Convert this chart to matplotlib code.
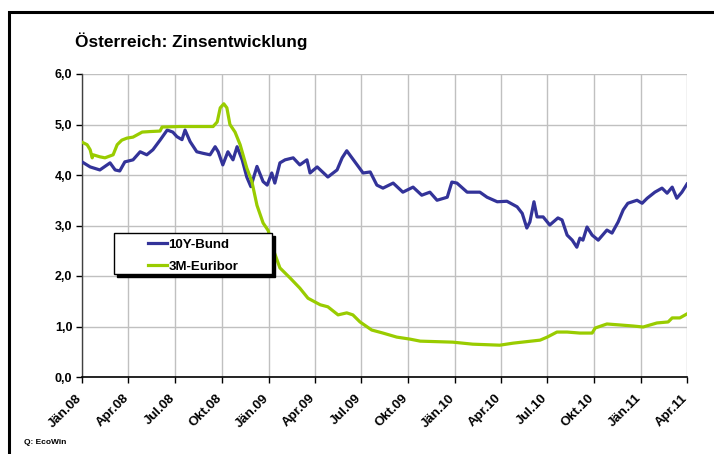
import matplotlib
matplotlib.use("Agg")
import matplotlib.pyplot as plt
import matplotlib.transforms as mtransforms
from matplotlib.patches import Rectangle
import pandas as pd

plt.rcParams['font.family'] = ['Liberation Sans', 'DejaVu Sans']

# ---- data ----
bund_dates = [
    "2008-01-01", "2008-01-17", "2008-02-05", "2008-02-25", "2008-03-06", "2008-03-15",
    "2008-03-25", "2008-04-10", "2008-04-24", "2008-05-07", "2008-05-19", "2008-06-02",
    "2008-06-16", "2008-06-27", "2008-07-05", "2008-07-15", "2008-07-21", "2008-07-31",
    "2008-08-13", "2008-08-25", "2008-09-08", "2008-09-18", "2008-09-24", "2008-10-03",
    "2008-10-13", "2008-10-23", "2008-10-31", "2008-11-10", "2008-11-19", "2008-11-27",
    "2008-12-09", "2008-12-21", "2008-12-29", "2009-01-07", "2009-01-13", "2009-01-23",
    "2009-02-02", "2009-02-18", "2009-03-03", "2009-03-17", "2009-03-23", "2009-04-06",
    "2009-04-27", "2009-05-15", "2009-05-25", "2009-06-03", "2009-06-19", "2009-07-05",
    "2009-07-19", "2009-08-01", "2009-08-13", "2009-09-02", "2009-09-21", "2009-10-11",
    "2009-10-28", "2009-11-13", "2009-11-27", "2009-12-17", "2009-12-26", "2010-01-05",
    "2010-01-25", "2010-02-19", "2010-03-05", "2010-03-25", "2010-04-13", "2010-05-03",
    "2010-05-13", "2010-05-22", "2010-05-28", "2010-06-05", "2010-06-11", "2010-06-23",
    "2010-07-06", "2010-07-22", "2010-07-30", "2010-08-09", "2010-08-19", "2010-08-28",
    "2010-09-03", "2010-09-09", "2010-09-17", "2010-09-27", "2010-10-09", "2010-10-26",
    "2010-11-05", "2010-11-17", "2010-11-27", "2010-12-06", "2010-12-24", "2011-01-03",
    "2011-01-13", "2011-01-28", "2011-02-11", "2011-02-21", "2011-03-03", "2011-03-12",
    "2011-03-22", "2011-04-01",
]
bund_values = [
    4.26, 4.16, 4.10, 4.24, 4.10, 4.08,
    4.26, 4.30, 4.46, 4.40, 4.50, 4.69,
    4.89, 4.85, 4.76, 4.70, 4.89, 4.66,
    4.46, 4.43, 4.40, 4.56, 4.46, 4.20,
    4.46, 4.30, 4.56, 4.30, 3.96, 3.77,
    4.17, 3.87, 3.80, 4.04, 3.84, 4.24,
    4.30, 4.34, 4.20, 4.30, 4.04, 4.16,
    3.96, 4.10, 4.34, 4.48, 4.26, 4.04,
    4.06, 3.80, 3.74, 3.84, 3.66, 3.76,
    3.60, 3.66, 3.50, 3.56, 3.86, 3.84,
    3.66, 3.66, 3.56, 3.47, 3.48, 3.37,
    3.24, 2.95, 3.07, 3.47, 3.17, 3.17,
    3.01, 3.15, 3.11, 2.81, 2.71, 2.57,
    2.75, 2.71, 2.97, 2.81, 2.71, 2.91,
    2.85, 3.07, 3.31, 3.44, 3.50, 3.44,
    3.54, 3.66, 3.74, 3.64, 3.76, 3.54,
    3.66, 3.82,
]

euribor_dates = [
    "2008-01-01", "2008-01-11", "2008-01-17", "2008-01-21", "2008-01-23", "2008-02-05",
    "2008-02-15", "2008-03-02", "2008-03-10", "2008-03-19", "2008-03-29", "2008-04-10",
    "2008-04-28", "2008-05-13", "2008-06-02", "2008-06-06", "2008-07-11", "2008-09-14",
    "2008-09-22", "2008-09-28", "2008-10-05", "2008-10-11", "2008-10-17", "2008-10-27",
    "2008-11-06", "2008-11-19", "2008-11-29", "2008-12-09", "2008-12-21", "2008-12-31",
    "2009-01-09", "2009-01-23", "2009-02-12", "2009-03-03", "2009-03-19", "2009-04-12",
    "2009-04-27", "2009-05-17", "2009-06-03", "2009-06-15", "2009-06-29", "2009-07-22",
    "2009-08-13", "2009-09-09", "2009-10-05", "2009-10-25", "2009-12-28", "2010-02-05",
    "2010-03-30", "2010-04-25", "2010-06-17", "2010-07-01", "2010-07-20", "2010-08-09",
    "2010-09-03", "2010-09-27", "2010-10-03", "2010-10-26", "2010-11-21", "2010-12-16",
    "2011-01-05", "2011-02-01", "2011-02-23", "2011-03-03", "2011-03-18", "2011-04-01",
]
euribor_values = [
    4.65, 4.60, 4.50, 4.34, 4.40, 4.36,
    4.34, 4.40, 4.60, 4.69, 4.73, 4.75,
    4.85, 4.86, 4.87, 4.95, 4.96, 4.96,
    5.05, 5.33, 5.41, 5.33, 5.00, 4.85,
    4.60, 4.14, 3.87, 3.40, 3.05, 2.90,
    2.55, 2.16, 1.96, 1.76, 1.56, 1.43,
    1.39, 1.23, 1.27, 1.23, 1.09, 0.93,
    0.87, 0.79, 0.75, 0.71, 0.69, 0.65,
    0.63, 0.67, 0.73, 0.79, 0.89, 0.89,
    0.87, 0.87, 0.97, 1.05, 1.03, 1.01,
    0.99, 1.07, 1.09, 1.17, 1.17, 1.25,
]

tick_dates = ["2008-01-01", "2008-04-01", "2008-07-01", "2008-10-01",
              "2009-01-01", "2009-04-01", "2009-07-01", "2009-10-01",
              "2010-01-01", "2010-04-01", "2010-07-01", "2010-10-01",
              "2011-01-01", "2011-04-01"]
tick_labels = ["Jän.08", "Apr.08", "Jul.08", "Okt.08",
               "Jän.09", "Apr.09", "Jul.09", "Okt.09",
               "Jän.10", "Apr.10", "Jul.10", "Okt.10",
               "Jän.11", "Apr.11"]
y_ticks = [0, 1, 2, 3, 4, 5, 6]
y_labels = ["0,0", "1,0", "2,0", "3,0", "4,0", "5,0", "6,0"]

title = "Österreich: Zinsentwicklung"
source = "Q: EcoWin"

# ---- figure ----
W, H = 714, 454
fig = plt.figure(figsize=(W / 100, H / 100), dpi=100)
fig.patch.set_facecolor("white")

# outer frame (cropped on right and bottom)
fig.patches.append(Rectangle((9 / W, -0.2), 1.2, 1.2 - 12 / H,
                             transform=fig.transFigure, fill=False,
                             edgecolor="black", linewidth=2.2))

AX_L, AX_R, AX_T, AX_B = 82, 687, 74, 377
ax = fig.add_axes([AX_L / W, 1 - AX_B / H, (AX_R - AX_L) / W, (AX_B - AX_T) / H])

bd = pd.to_datetime(bund_dates)
ed = pd.to_datetime(euribor_dates)
td = pd.to_datetime(tick_dates)

ax.plot(bd, bund_values, color="#333399", lw=2.3, label="10Y-Bund",
        solid_joinstyle="round", zorder=3)
ax.plot(ed, euribor_values, color="#99CC00", lw=2.3, label="3M-Euribor",
        solid_joinstyle="round", zorder=3)

ax.set_xlim(td[0], td[-1])
ax.set_ylim(0, 6)

ax.set_xticks(td)
ax.set_xticklabels([""] * len(td))
lbl_tr = ax.get_xaxis_transform() + mtransforms.ScaledTranslation(
    -6 / 100, -15 / 100, fig.dpi_scale_trans)
for d, lab in zip(td, tick_labels):
    ax.text(d, 0, lab, transform=lbl_tr, rotation=45, ha="right", va="top",
            rotation_mode="anchor", fontsize=9.5, fontweight="bold")
ax.set_yticks(y_ticks)
ax.set_yticklabels(y_labels, fontsize=9, fontweight="bold")

ax.grid(True, color="#c0c0c0", lw=1)
ax.set_axisbelow(True)
for s in ["top", "right"]:
    ax.spines[s].set_visible(False)
ax.spines["left"].set_color("#404040")
ax.spines["bottom"].set_color("black")
ax.spines["left"].set_linewidth(1)
ax.spines["bottom"].set_linewidth(1.2)
ax.tick_params(axis="x", direction="out", length=4, width=1, pad=2)
ax.tick_params(axis="y", direction="out", length=4, width=1, pad=3)

# legend box with hard black shadow
LB_L, LB_R, LB_T, LB_B = 114, 272, 233, 274
def px2ax(x, y):
    return ((x - AX_L) / (AX_R - AX_L), (AX_B - y) / (AX_B - AX_T))
x0, y0 = px2ax(LB_L + 3, LB_B + 3)
x1, y1 = px2ax(LB_R + 3, LB_T + 3)
ax.add_patch(Rectangle((x0, y0), x1 - x0, y1 - y0, transform=ax.transAxes,
                       facecolor="black", edgecolor="black", lw=1, zorder=5))
x0, y0 = px2ax(LB_L, LB_B)
x1, y1 = px2ax(LB_R, LB_T)
ax.add_patch(Rectangle((x0, y0), x1 - x0, y1 - y0, transform=ax.transAxes,
                       facecolor="white", edgecolor="black", lw=1, zorder=6))
cx, cy = px2ax((LB_L + LB_R) / 2, (LB_T + LB_B) / 2 + 2)
leg = ax.legend(loc="center", bbox_to_anchor=(cx, cy),
                frameon=False, handlelength=1.45, handletextpad=0.15,
                borderaxespad=0, borderpad=0, labelspacing=0.75,
                prop={"weight": "bold", "size": 9.5})
leg.set_zorder(7)

fig.text(75 / W, 1 - 41 / H, title, fontsize=12.4, fontweight="bold",
         ha="left", va="center")
fig.text(24 / W, 1 - 443 / H, source, fontsize=6, fontweight="bold",
         ha="left", va="center")

fig.savefig("out.png", dpi=100)
